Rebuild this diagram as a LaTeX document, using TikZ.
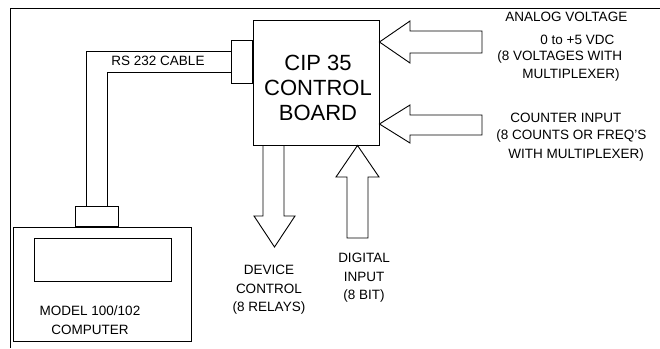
\documentclass[tikz,border=0pt]{standalone}
\usepackage{fontspec}
\setmainfont{Liberation Sans}
\usepackage{tikz}
\usetikzlibrary{positioning, calc}

\begin{document}
\begin{tikzpicture}[
      x=1pt, y=-1pt,
      line width=0.9pt,
      every node/.style={inner sep=0pt},
      box/.style={draw, rectangle},
      lbl/.style={font=\fontsize{13.5}{18.5}\selectfont, align=center},
      lblw/.style={font=\fontsize{13.5}{18.5}\selectfont, anchor=west}
    ]
      \useasboundingbox (0,0) rectangle (660,348);
      % frame
      \draw (660,8) -- (10,8) -- (10,348);

      \node[box, minimum width=126pt, minimum height=125pt] (board) at (316,82.5) {};
      \node[font=\fontsize{22}{25}\selectfont, align=center] (boardtxt) at (318,88)
        {CIP 35\\CONTROL\\BOARD};
      \node[box, minimum width=21pt, minimum height=43pt, left=0pt of board.west, yshift=21pt, anchor=east] (port) {};

      \node[box, minimum width=178pt, minimum height=114pt] (computer) at (102,284) {};
      \node[box, minimum width=137pt, minimum height=43pt] (screen) at (102.5,259.5) {};
      \node[box, minimum width=43pt, minimum height=20pt, anchor=south] (plug) at (96.5,227) {};

      % cable
      \draw ([yshift=10.5pt]port.west) -| ([xshift=12pt]plug.north west);
      \draw ([yshift=-10.5pt]port.west) -| ([xshift=-11pt]plug.north east);
      \node[lbl] (cable) at (158,61) {RS 232 CABLE};

      \node[lbl] (model) at (90,320) {MODEL 100/102\\COMPUTER};

      % device control (out)
      \draw (board.south -| 263,0) -- (263,216) -- (254,216) -- (274.5,247)
        -- (295,216) -- (284,216) -- (board.south -| 284,0);
      \node[lbl] (device) at (269,290) {DEVICE\\CONTROL\\(8 RELAYS)};

      % digital input (in)
      \draw (347,238) -- (347,177) -- (336,177) -- (board.south -| 357.5,0)
        -- (379,177) -- (368,177) -- (368,238) -- cycle;
      \node[lbl] (digital) at (364,278) {DIGITAL\\INPUT\\(8 BIT)};

      % analog voltage (in)
      \draw (board.east |- 0,42) -- (410,21) -- (410,31) -- (482,31)
        -- (482,53) -- (410,53) -- (410,63) -- cycle;
      \node[lblw] (anaA) at (505,17) {ANALOG VOLTAGE};
      \node[lblw] (anaB) at (540,40) {0 to +5 VDC};
      \node[lblw] (anaC) at (497,57) {(8 VOLTAGES WITH};
      \node[lblw] (anaD) at (522,75) {MULTIPLEXER)};

      % counter input (in)
      \draw (board.east |- 0,124) -- (410,105) -- (410,115) -- (482,115)
        -- (482,135) -- (410,135) -- (410,143) -- cycle;
      \node[lblw] (cntA) at (510,118) {COUNTER INPUT};
      \node[lblw] (cntB) at (496,136) {(8 COUNTS OR FREQ'S};
      \node[lblw] (cntC) at (508,155) {WITH MULTIPLEXER)};
    \end{tikzpicture}
\end{document}
